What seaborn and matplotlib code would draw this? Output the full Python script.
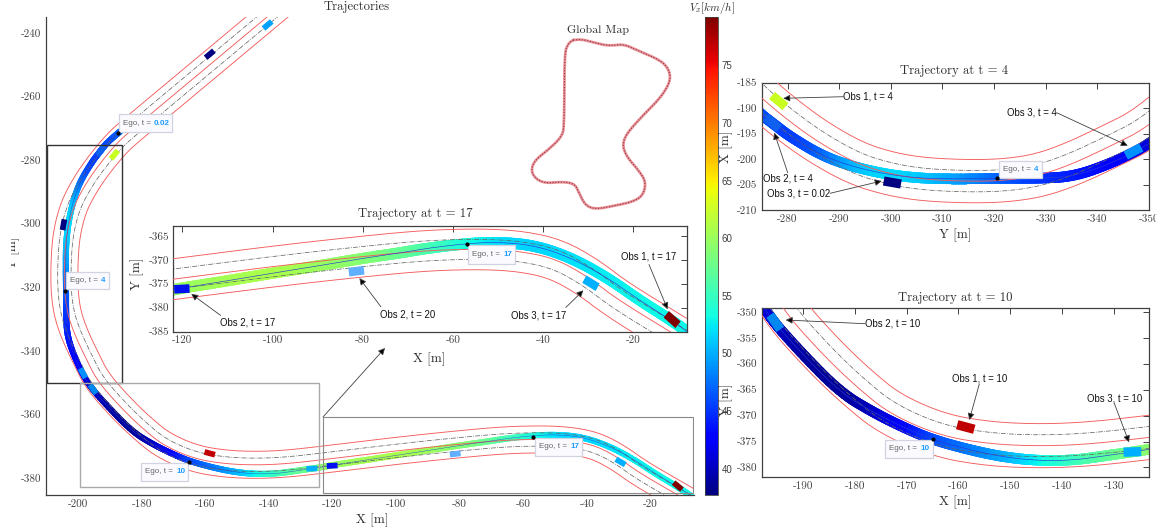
#!/usr/bin/env python3
"""Ego and obstacle trajectories on a race track, with zoomed views."""
import numpy as np
import matplotlib
matplotlib.use("Agg")
import matplotlib.pyplot as plt
import seaborn as sns
from matplotlib.cm import ScalarMappable
from matplotlib.collections import LineCollection
from matplotlib.colors import Normalize
from matplotlib.patches import Polygon, Rectangle

W, H = 1156, 531

# lane divider [m], the other lines sit at lane_offsets from it
track_x = [-135.8, -140.6, -160.0, -184.4, -188.1, -192.7, -196.9, -200.9, -202.9, -204.0,
           -204.4, -204.2, -203.2, -200.9, -197.8, -193.9, -186.0, -179.6, -173.2, -163.5,
           -153.9, -144.2, -134.6, -123.0, -100.0, -80.0, -65.8, -53.9, -45.1, -37.2,
           -30.0, -23.7, -12.1, -5.0]
track_y = [-231.0, -235.0, -251.2, -271.5, -275.0, -280.5, -286.3, -293.4, -299.8, -306.3,
           -315.3, -322.4, -328.9, -335.3, -341.8, -349.6, -358.4, -364.5, -369.7, -373.9,
           -375.5, -375.9, -375.5, -374.2, -371.4, -369.3, -368.05, -367.75, -368.2, -369.8,
           -373.6, -378.2, -384.9, -389.0]
lane_offsets = [-4.25, -2.1, 0.0, 2.1, 4.25]

ego_x = [-187.3, -191.0, -193.1, -195.6, -199.4, -201.6, -203.1, -203.8, -203.9, -203.8,
         -203.8, -203.4, -201.2, -197.3, -190.5, -182.8, -176.4, -169.9, -164.8, -157.1,
         -150.6, -144.2, -137.8, -131.3, -123.1, -120.0, -110.0, -100.0, -90.0, -80.0,
         -72.0, -65.8, -56.9, -49.9, -41.9, -34.0, -26.0, -18.1, -12.5, -8.2, -4.0]
ego_y = [-271.4, -274.6, -277.3, -280.5, -286.8, -293.0, -299.8, -306.3, -313.0, -320.5,
         -328.9, -335.3, -341.8, -350.0, -357.7, -365.5, -369.4, -372.6, -374.7, -376.8,
         -378.1, -378.7, -378.6, -377.7, -376.5, -375.9, -374.4, -372.8, -371.3, -369.7,
         -368.6, -367.6, -366.6, -366.3, -367.0, -369.5, -373.6, -378.8, -382.1, -384.9, -388.0]
ego_v = [47, 46, 46, 45, 47, 50.5, 52, 51, 49.5, 47,
         45, 44, 43, 41, 39, 38.5, 40, 43, 46, 48,
         50, 53, 55, 57, 59, 60, 60.5, 61, 60, 59,
         57.5, 56, 53.5, 52, 51.5, 52, 52.5, 53, 53, 53, 53]

# obstacles: centre [m], heading [deg], colour
obs_x = [-158.6, -140.4, -188.6, -204.6, -192.9, -198.5, -195.3, -158.6, -126.5, -120.1, -81.4, -29.4, -11.4]
obs_y = [-246.7, -237.5, -278.3, -300.3, -277.1, -347.0, -352.0, -372.2, -377.0, -376.1, -372.4, -374.9, -382.5]
obs_heading = [40, 40, 50, 80, 50, -62, -55, -15, 2, 3, 7, -30, -40]
obs_color = ["#000080", "#00a0ff", "#c8ff20", "#000080", "#1060f0", "#0090ff", "#0088f0",
             "#c00000", "#00b0ff", "#0010f0", "#60b0ff", "#00b0ff", "#800000"]
CAR_L, CAR_W = 3.4, 1.8

speed_min, speed_max = 37.7, 79.2
speed_ticks = [40, 45, 50, 55, 60, 65, 70, 75]

main_xticks = list(range(-200, -19, 20))
main_yticks = list(range(-380, -239, 20))
t17_xticks = list(range(-120, -19, 20))
t17_yticks = [-385, -380, -375, -370, -365]
t4_xticks = list(range(-350, -279, 10))
t4_yticks = [-210, -205, -200, -195, -190, -185]
t10_xticks = list(range(-190, -129, 10))
t10_yticks = [-380, -375, -370, -365, -360, -355, -350]

# global map outline, arbitrary units
map_x = [160, 185, 220, 265, 310, 350, 420, 445, 452, 440, 415, 370, 320, 307, 320, 355, 378,
         370, 340, 280, 225, 195, 178, 165, 130, 75, 45, 33, 45, 90, 125, 133, 133, 145, 160]
map_y = [120, 118, 127, 138, 132, 150, 180, 205, 235, 265, 300, 345, 400, 435, 470, 510, 545,
         585, 605, 618, 628, 615, 580, 552, 545, 550, 535, 510, 480, 445, 410, 380, 160, 130, 120]

# callouts in figure pixels: text, text centre, arrow start, arrow tip
callouts = [
    ("Obs 2, t = 17", (248, 322.6), (220.6, 315.4), (191.3, 293.9)),
    ("Obs 2, t = 20", (408, 314.3), (380.9, 306.8), (359.4, 278.1)),
    ("Obs 3, t = 17", (538.6, 315), (565.8, 307.5), (583.4, 290.3)),
    ("Obs 1, t = 17", (648.2, 256.6), (649, 264.5), (667.6, 309.3)),
    ("Obs 1, t = 4", (868.3, 96.7), (843.3, 96.7), (783.3, 98.3)),
    ("Obs 3, t = 4", (1032.3, 112.7), (1056.7, 112.7), (1127.7, 145.7)),
    ("Obs 2, t = 4", (787.7, 178.7), (787.7, 172.7), (774.3, 132.7)),
    ("Obs 3, t = 0.02", (798.3, 193.3), (830, 193.3), (881.7, 181)),
    ("Obs 2, t = 10", (892.3, 323.7), (865, 323.7), (785.7, 320)),
    ("Obs 1, t = 10", (979.3, 378.3), (979.3, 384), (969.3, 420)),
    ("Obs 3, t = 10", (1114.3, 398.7), (1114.3, 403.3), (1129, 442.3)),
]

# ego data tips: box left, top, right, bottom in pixels, value, marker position
tips = [
    (119, 114.3, 172, 132.3, "0.02", (118, 133)),
    (66, 272, 108.7, 289.3, "4", (65, 290.5)),
    (141, 462.7, 188, 480.7, "10", (189.3, 462)),
    (535, 437.7, 581.7, 456, "17", (533.3, 437.3)),
    (468, 244.8, 515, 263.8, "17", (466.9, 243.7)),
    (998.7, 160.7, 1041.7, 178.3, "4", (997, 178.3)),
    (885, 440, 932.7, 457.7, "10", (933, 439.3)),
]

FRAME = "#404040"
SANS = "Liberation Sans"
norm = Normalize(speed_min, speed_max)


def add_axes_px(fig, left, top, right, bottom):
    return fig.add_axes([left / W, 1 - bottom / H, (right - left) / W, (bottom - top) / H])


def round_corners(values, passes=3):
    # corner cutting, the read points are a polyline and the track is not
    out = np.asarray(values, dtype=float)
    for _ in range(passes):
        q = 0.75 * out[:-1] + 0.25 * out[1:]
        r = 0.25 * out[:-1] + 0.75 * out[1:]
        out = np.concatenate([out[:1], np.column_stack([q, r]).ravel(), out[-1:]])
    return out


def lane_lines():
    x = round_corners(track_x)
    y = round_corners(track_y)
    dx = np.gradient(x)
    dy = np.gradient(y)
    d = np.hypot(dx, dy)
    return [(x - dy / d * off, y + dx / d * off) for off in lane_offsets]


def draw_scene(ax, band_px, swap=False, thin=0.45):
    order = (lambda a, b: (b, a)) if swap else (lambda a, b: (a, b))

    ex, ey = order(round_corners(ego_x), round_corners(ego_y))
    speed = round_corners(ego_v)
    pts = np.column_stack([ex, ey])
    segs = np.stack([pts[:-1], pts[1:]], axis=1)
    band = LineCollection(segs, cmap="jet", norm=norm, linewidths=band_px * 0.72,
                          capstyle="projecting", zorder=2)
    band.set_array(speed[:-1])
    ax.add_collection(band)

    for i, (lx, ly) in enumerate(lane_lines()):
        a, b = order(lx, ly)
        if i % 2 == 0:
            sns.lineplot(x=a, y=b, sort=False, estimator=None, color="#f45c5c", linewidth=0.65,
                         ax=ax, zorder=3, legend=False)
        else:
            sns.lineplot(x=a, y=b, sort=False, estimator=None, color="#666666", linewidth=0.55,
                         linestyle="-.", ax=ax, zorder=3, legend=False)
    sns.lineplot(x=ex, y=ey, sort=False, estimator=None, color="#2a3ad0", linewidth=thin,
                 ax=ax, zorder=4, legend=False)

    for ox, oy, head, col in zip(obs_x, obs_y, obs_heading, obs_color):
        rad = np.deg2rad(head)
        ux, uy = np.cos(rad), np.sin(rad)
        corners = []
        for s, t in [(1, 1), (1, -1), (-1, -1), (-1, 1)]:
            cx = ox + s * CAR_L / 2 * ux - t * CAR_W / 2 * uy
            cy = oy + s * CAR_L / 2 * uy + t * CAR_W / 2 * ux
            corners.append(order(cx, cy))
        ax.add_patch(Polygon(corners, closed=True, facecolor=col, edgecolor="none", zorder=5))


def style_axes(ax, xticks, yticks, xlim, ylim, boxed=True):
    ax.set_xlim(*xlim)
    ax.set_ylim(*ylim)
    ax.set_xticks(xticks)
    ax.set_xticklabels([str(t) for t in xticks])
    ax.set_yticks(yticks)
    ax.set_yticklabels([str(t) for t in yticks])
    ax.set_xlabel("")
    ax.set_ylabel("")
    ax.tick_params(direction="in", length=4.5, width=0.7, color=FRAME, labelcolor=FRAME,
                   labelsize=8, top=boxed, right=boxed, pad=3)
    for name, spine in ax.spines.items():
        spine.set_color(FRAME)
        spine.set_linewidth(0.9)
        spine.set_visible(boxed or name in ("left", "bottom"))


def arrow(ax, start, tip):
    ax.annotate("", xy=tip, xytext=start,
                arrowprops=dict(arrowstyle="-|>", color="#404040", lw=0.6, mutation_scale=10,
                                shrinkA=0, shrinkB=0, fc="black"))


def main():
    sns.set_theme(style="white")
    plt.rcParams["font.family"] = ["cmr10", "DejaVu Serif"]
    plt.rcParams["mathtext.fontset"] = "cm"
    plt.rcParams["axes.unicode_minus"] = False

    fig = plt.figure(figsize=(W / 100, H / 100), dpi=100)

    # full track view
    ax = add_axes_px(fig, 45.7, 17, 694, 495)
    draw_scene(ax, 6, thin=0.3)
    style_axes(ax, main_xticks, main_yticks, (-210.2, -6.3), (-385.3, -235), boxed=False)
    ax.patch.set_alpha(0)
    ax.add_patch(Rectangle((-209.7, -350), 23.6, 74.8, fill=False, edgecolor="#333333", lw=1.0, zorder=6))
    ax.add_patch(Rectangle((-199.4, -382.8), 75.2, 32.8, fill=False, edgecolor="#aaaaaa", lw=1.0, zorder=6))
    ax.add_patch(Rectangle((-123, -384.7), 116.4, 23.9, fill=False, edgecolor="#888888", lw=0.8, zorder=6))

    # zoom at t = 17
    ax17 = add_axes_px(fig, 173.3, 225.8, 686.6, 331.5)
    draw_scene(ax17, 11)
    style_axes(ax17, t17_xticks, t17_yticks, (-122, -8.2), (-385, -362.9))

    # zoom at t = 4, axes swapped
    ax4 = add_axes_px(fig, 761.7, 82.7, 1149, 210)
    draw_scene(ax4, 10.5, swap=True)
    style_axes(ax4, t4_xticks, t4_yticks, (-275, -350), (-210, -185))

    # zoom at t = 10
    ax10 = add_axes_px(fig, 761.7, 307.7, 1149, 477.3)
    draw_scene(ax10, 10.5)
    style_axes(ax10, t10_xticks, t10_yticks, (-197.9, -123.3), (-381.9, -349.2))

    # global map
    ax_map = add_axes_px(fig, 520, 0, 760, 230)
    mx, my = round_corners(map_x), round_corners(map_y)
    sns.lineplot(x=mx, y=my, sort=False, estimator=None, color="#ea9096", linewidth=2.0,
                 ax=ax_map, legend=False)
    sns.lineplot(x=mx, y=my, sort=False, estimator=None, color="#8a3a44", linewidth=0.8,
                 linestyle=(0, (1, 1.5)), ax=ax_map, legend=False)
    ax_map.set_xlim(0, 720)
    ax_map.set_ylim(690, 0)
    ax_map.axis("off")

    # colour bar
    cax = add_axes_px(fig, 705, 17, 717.5, 495)
    cbar = fig.colorbar(ScalarMappable(norm=norm, cmap="jet"), cax=cax, ticks=speed_ticks)
    cbar.outline.set_edgecolor(FRAME)
    cbar.outline.set_linewidth(0.6)
    cax.tick_params(direction="in", length=4, width=0.7, color=FRAME, labelcolor=FRAME, pad=3)
    for lab in cax.get_yticklabels():
        lab.set_fontfamily(SANS)
        lab.set_fontsize(7)

    # everything placed by pixel goes on a transparent overlay
    top = fig.add_axes([0, 0, 1, 1], zorder=20)
    top.set_xlim(0, W)
    top.set_ylim(H, 0)
    top.axis("off")

    serif = dict(ha="center", va="center", color="#303030")
    top.text(357, 7, "Trajectories", fontsize=9.2, **serif)
    top.text(598, 30, "Global Map", fontsize=8.6, **serif)
    top.text(415, 214, "Trajectory at t = 17", fontsize=9.2, **serif)
    top.text(954, 71, "Trajectory at t = 4", fontsize=9.2, **serif)
    top.text(955, 298, "Trajectory at t = 10", fontsize=9.2, **serif)
    top.text(711.7, 7.5, r"$V_x[km/h]$", fontsize=8, **serif)

    for x, y, label in [(372, 520, "X [m]"), (429.6, 359.5, "X [m]"), (955, 235, "Y [m]"), (955, 502, "X [m]")]:
        top.text(x, y, label, fontsize=9.5, **serif)
    for x, y, label in [(137, 274, "Y [m]"), (726.7, 147, "X [m]"), (726.7, 400, "Y [m]")]:
        top.text(x, y, label, fontsize=9.5, rotation=90, **serif)

    # the main y label is half hidden in the source figure
    top.text(13, 253, "Y [m]", fontsize=9.5, rotation=90, **serif)
    top.add_patch(Rectangle((0, 235), 10.5, 36, facecolor="white", edgecolor="none", zorder=3))

    for label, pos, start, tip in callouts:
        arrow(top, start, tip)
        top.text(pos[0], pos[1], label, fontsize=6.9, family=SANS, ha="center", va="center", color="#111111")
    arrow(top, (323, 417), (385, 348))

    for left, ttop, right, bottom, value, marker in tips:
        top.add_patch(Rectangle((left, ttop), right - left, bottom - ttop, facecolor="#fbfbff",
                                edgecolor="#d0d3e0", lw=0.9))
        ymid = (ttop + bottom) / 2
        lab = top.text(left + 4, ymid, "Ego, t = ", fontsize=5.8, family=SANS, color="#666666",
                       ha="left", va="center")
        fig.canvas.draw()
        box = lab.get_window_extent()
        top.text(left + 4 + box.width + 1, ymid, value, fontsize=5.8, family=SANS, color="#1e9bff",
                 fontweight="bold", ha="left", va="center")
        top.plot(marker[0], marker[1], "o", color="black", markersize=2, zorder=5)

    fig.savefig("out.png", dpi=100)


if __name__ == "__main__":
    main()
